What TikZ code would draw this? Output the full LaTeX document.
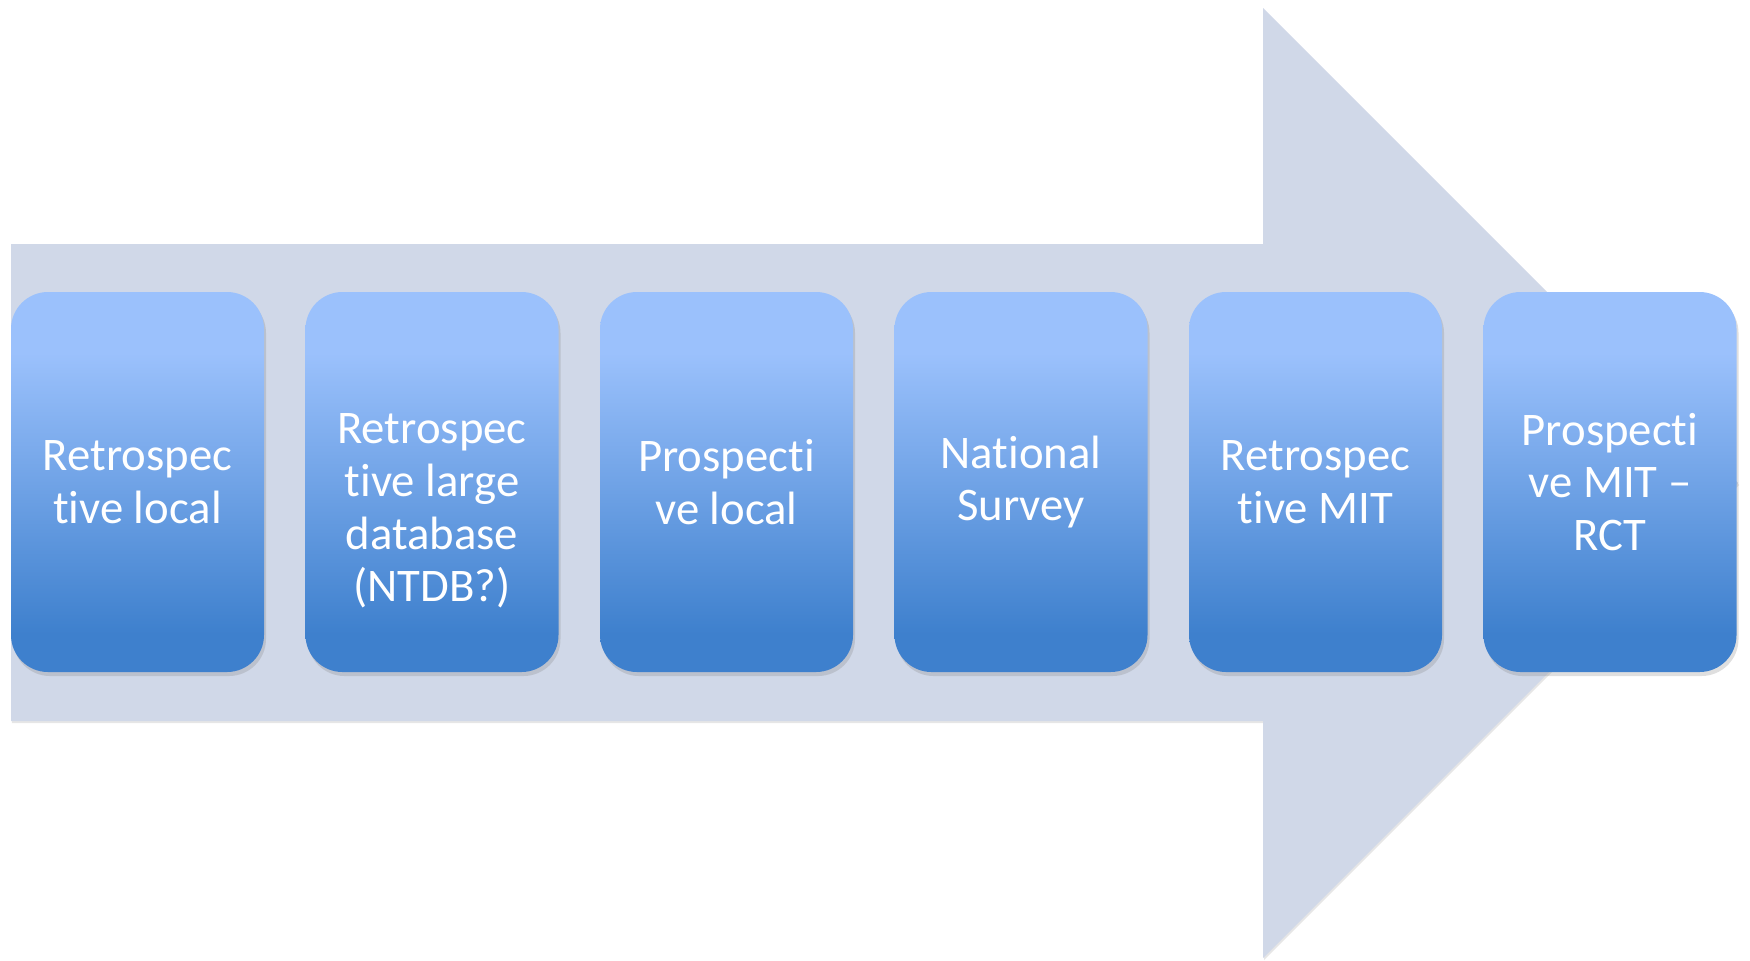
\documentclass[tikz,border=0pt]{standalone}
\usepackage{fontspec}
\setmainfont{Carlito}[Ligatures={NoCommon}]
\usetikzlibrary{shadows}

\definecolor{arrowgray}{RGB}{208,216,232}
\definecolor{boxtop}{RGB}{155,193,252}
\definecolor{boxbot}{RGB}{62,128,205}
\pgfdeclareverticalshading{boxfill}{100bp}{color(0bp)=(boxbot); color(30bp)=(boxbot); color(67bp)=(boxtop); color(100bp)=(boxtop)}

\begin{document}
\begin{tikzpicture}[
    stage/.style={rounded corners=0.37cm, shading=boxfill, minimum width=2.53cm, minimum height=3.8cm,
      text width=2.2cm, align=flush center, text=white, font=\fontsize{13.3}{15}\selectfont,
      drop shadow={shadow xshift=0.02cm, shadow yshift=-0.04cm, opacity=0.25}}
  ]
      \useasboundingbox (0, 0) rectangle (17.5, 9.6);
      % big arrow behind the stages
      \fill[arrowgray, drop shadow={shadow xshift=0.01cm, shadow yshift=-0.02cm, opacity=0.2}]
        (0.11, 2.39) -- (0.11, 7.16) -- (12.63, 7.16) -- (12.63, 9.52) -- (17.38, 4.77)
        -- (12.63, 0.02) -- (12.63, 2.39) -- cycle;
      \node[stage] (Retro Local) at (1.375, 4.78) {Retrospec\\tive local};
      \node[stage] (Retro Large) at (4.32, 4.78) {\rule{0pt}{0.88cm}Retrospec\\tive large\\database\\(NTDB?)};
      \node[stage] (Pro Local) at (7.265, 4.78) {Prospecti\\ve local};
      \node[stage] (National Survey) at (10.21, 4.78) {National\\Survey};
      \node[stage] (Retro MIT) at (13.155, 4.78) {Retrospec\\tive MIT};
      \node[stage] (Pro MIT) at (16.1, 4.78) {Prospecti\\ve MIT –\\RCT};
\end{tikzpicture}
\end{document}
